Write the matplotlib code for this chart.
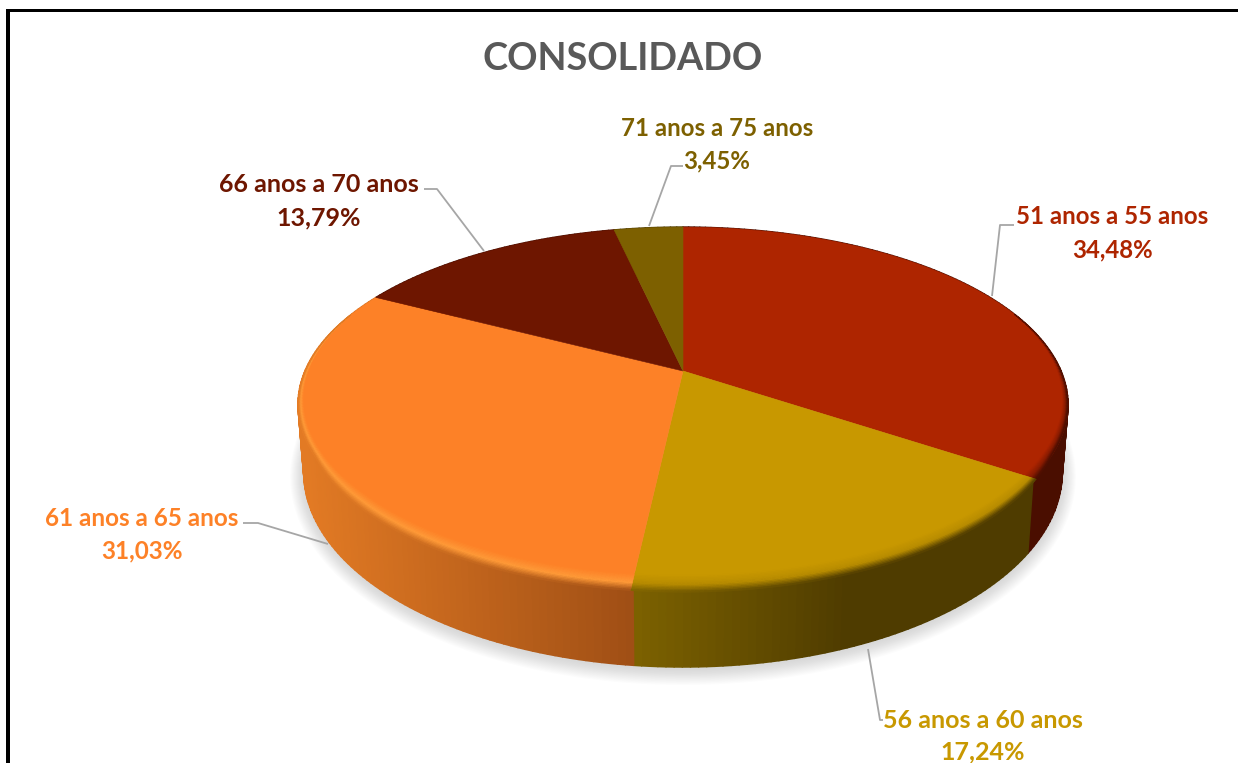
import numpy as np
import matplotlib
matplotlib.use("Agg")
import matplotlib.pyplot as plt
from matplotlib.collections import PolyCollection
from matplotlib.colors import to_rgb

title = "CONSOLIDADO"
categories = ["51 anos a 55 anos", "56 anos a 60 anos", "61 anos a 65 anos",
              "66 anos a 70 anos", "71 anos a 75 anos"]
shares = [34.48, 17.24, 31.03, 13.79, 3.45]
share_labels = ["34,48%", "17,24%", "31,03%", "13,79%", "3,45%"]

top_colors = ["#AE2500", "#C89800", "#FD8127", "#6E1600", "#7D6000"]
wall_left = ["#4A0E00", "#7D6200", "#E27A24", "#4A0E00", "#4F3C00"]
wall_right = ["#4A0E00", "#4F3C00", "#A04F15", "#4A0E00", "#4F3C00"]
rim_colors = ["#8A1C00", "#B88C00", "#FF9A38", "#6E1600", "#7D6000"]

# label anchors and leader lines, in pixels of the 1238x763 picture
label_pos = [(1112, 217, 250), (983, 720, 752), (142, 518, 551), (319, 185, 218), (717, 128, 161)]
label_size = [17.3, 18.0, 17.5, 18.0, 17.3]
leaders = [[(1014, 225), (1000, 225), (992, 296)],
           [(868, 649), (880, 720), (883, 720)],
           [(243, 523), (258, 523), (328, 544)],
           [(424, 189), (437, 189), (484, 251)],
           [(683, 166), (671, 166), (649, 226)]]

CX, CY = 683.0, 371.0
RX, RY, K = 378.0, 171.0, 0.1887
BX, BY, BCY = 0.985, 1.098, 435.5
BEVEL_IN, BEVEL_OUT = 0.025, 0.04


def project(theta, r=1.0):
    """Disc top in perspective, theta clockwise from 12 o'clock"""
    x = r * np.sin(theta)
    y = r * np.cos(theta)
    d = 1 + K * y
    return CX + RX * x / d, CY - RY * y / d


def project_bottom(theta):
    x, y = project(theta)
    return CX + BX * (x - CX), BCY + BY * (y - CY)


def mix(a, b, t):
    return tuple(np.array(to_rgb(a)) * (1 - t) + np.array(to_rgb(b)) * t)


def wall_color(i, x):
    # wall shading runs with x, not with the angle
    if i == 1:
        t = np.clip((635 - x) / (635 - 850), 0, 1)
    else:
        t = np.clip((x - 305) / (635 - 305), 0, 1)
    return mix(wall_left[i], wall_right[i], t)


fig = plt.figure(figsize=(12.38, 7.63), dpi=100)
ax = fig.add_axes([0, 0, 1, 1])
ax.set_xlim(0, 1238)
ax.set_ylim(763, 0)
ax.axis("off")

# outer frame
ax.fill_between([6, 1238], 9, 11.5, color="black", lw=0, zorder=1)
ax.fill_between([6, 9.5], 9, 763, color="black", lw=0, zorder=1)

edges = np.radians(np.concatenate([[0], np.cumsum(shares)]) * 3.6)
edges[-1] = 2 * np.pi

# soft shadow under the disc
all_t = np.linspace(0, 2 * np.pi, 360)
bx, by = project_bottom(all_t)
for grow in np.linspace(18, 1, 14):
    sx = CX + (bx - CX) * (1 + grow / 500)
    sy = BCY + (by - BCY) * (1 + grow / 260) + 2
    ax.fill(sx, sy, color="#8c8c8c", alpha=0.022, lw=0, zorder=2)

# side wall
polys, cols = [], []
for i in range(len(shares)):
    ts = np.linspace(edges[i], edges[i + 1], max(int(np.degrees(edges[i + 1] - edges[i])), 4))
    x1, y1 = project(ts)
    x2, y2 = project_bottom(ts)
    for j in range(len(ts) - 1):
        polys.append([(x1[j], y1[j]), (x1[j + 1], y1[j + 1]), (x2[j + 1], y2[j + 1]), (x2[j], y2[j])])
        cols.append(wall_color(i, x1[j]))
ax.add_collection(PolyCollection(polys, facecolors=cols, edgecolors=cols, linewidths=1.2, zorder=3))

# top face
for i in range(len(shares)):
    ts = np.linspace(edges[i], edges[i + 1], 200)
    x, y = project(ts)
    ax.fill(np.r_[CX, x], np.r_[CY, y], color=top_colors[i], lw=0.4, zorder=4)

# bevel along the front rim
polys, cols = [], []
strips = np.linspace(0, 1, 13)
for i in range(len(shares)):
    ts = np.linspace(edges[i], edges[i + 1], max(int(np.degrees(edges[i + 1] - edges[i])) * 2, 4))
    for j in range(len(ts) - 1):
        tm = (ts[j] + ts[j + 1]) / 2
        fade = np.clip(0.35 - np.cos(tm), 0, 1)
        if fade <= 0:
            continue
        r_in = 1 - BEVEL_IN * fade
        r_out = 1 + BEVEL_OUT * np.clip((-np.cos(tm) - 0.45) / 0.55, 0, 1)
        for a, b in zip(strips[:-1], strips[1:]):
            ra, rb = r_in + (r_out - r_in) * a, r_in + (r_out - r_in) * b
            xa0, ya0 = project(ts[j], ra)
            xa1, ya1 = project(ts[j + 1], ra)
            xb0, yb0 = project(ts[j], rb)
            xb1, yb1 = project(ts[j + 1], rb)
            wall = wall_color(i, xa0)
            m = (a + b) / 2
            if m < 0.55:
                c = mix(top_colors[i], rim_colors[i], m / 0.55)
            else:
                c = mix(rim_colors[i], wall, (m - 0.55) / 0.45)
            polys.append([(xa0, ya0), (xa1, ya1), (xb1, yb1), (xb0, yb0)])
            cols.append(c)
ax.add_collection(PolyCollection(polys, facecolors=cols, edgecolors=cols, linewidths=0.5, zorder=5))

# leader lines
for pts in leaders:
    xs, ys = zip(*pts)
    ax.plot(xs, ys, color="#A6A6A6", lw=1.3, zorder=6, solid_capstyle="butt")

# texts
ax.text(623, 59, title, color="#595959", fontsize=27.2, fontweight="bold", family="Lato",
        ha="center", va="center", zorder=7)
for i, name in enumerate(categories):
    lx, y1, y2 = label_pos[i]
    ax.text(lx, y1, name, color=top_colors[i], fontsize=label_size[i], fontweight="bold", family="Lato",
            ha="center", va="center", zorder=7)
    ax.text(lx, y2, share_labels[i], color=top_colors[i], fontsize=label_size[i], fontweight="bold", family="Lato",
            ha="center", va="center", zorder=7)

fig.savefig("out.png", dpi=100)
